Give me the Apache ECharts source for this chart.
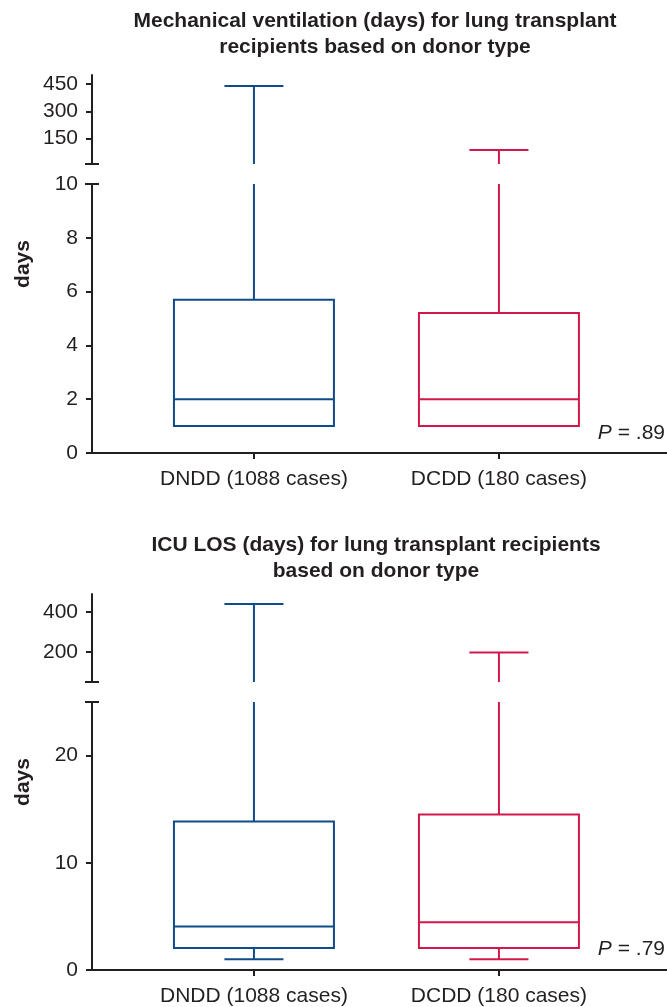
<!DOCTYPE html>
<html><head><meta charset="utf-8">
<script src="https://cdn.jsdelivr.net/npm/echarts@6/dist/echarts.min.js"></script>
<style>html,body{margin:0;padding:0;background:#fff}#c{width:667px;height:1007px}</style>
</head><body><div id="c"></div>
<script>
// ---- data ----
const categories = ['DNDD (1088 cases)', 'DCDD (180 cases)'];
// Mechanical ventilation (days)
const mvMin = [1, 1];
const mvQ1 = [1, 1];
const mvMedian = [2, 2];
const mvQ3 = [5.7, 5.2];
const mvMax = [440, 87];
// ICU LOS (days)
const losMin = [1, 1];
const losQ1 = [2.05, 2.05];
const losMedian = [4.05, 4.45];
const losQ3 = [13.85, 14.5];
const losMax = [440, 198];
// tick labels
const mvTicksUpper = [150, 300, 450];
const mvTicksLower = [0, 2, 4, 6, 8, 10];
const losTicksUpper = [200, 400];
const losTicksLower = [0, 10, 20];
const pValues = ['.89', '.79'];
const chartTitles = [
  'Mechanical ventilation (days) for lung transplant\nrecipients based on donor type',
  'ICU LOS (days) for lung transplant recipients\nbased on donor type'
];

// ---- styles ----
const AX = '#231f20';
const FONT = 'Liberation Sans';
const FS = 21;
const COLORS = ['#0f4c87', '#d2184a'];
const BOX_W = 0.653, CAP_W = 0.241;
const X_MIN = 0.339, X_MAX = 2.686;

function rows(mn, q1, md, q3, mx) {
  return categories.map((c, i) => [i + 1, mn[i], q1[i], md[i], q3[i], mx[i]]);
}
const mvRows = rows(mvMin, mvQ1, mvMedian, mvQ3, mvMax);
const losRows = rows(losMin, losQ1, losMedian, losQ3, losMax);

function boxRenderer(lo, hi) {
  return function (params, api) {
    const x = api.value(0);
    const mn = api.value(1), q1 = api.value(2), md = api.value(3), q3 = api.value(4), mx = api.value(5);
    const color = COLORS[params.dataIndex];
    const half = api.size([BOX_W, 0])[0] / 2;
    const capHalf = api.size([CAP_W, 0])[0] / 2;
    const cx = api.coord([x, lo])[0];
    const Y = v => api.coord([x, Math.max(lo, Math.min(hi, v))])[1];
    const style = { stroke: color, lineWidth: 2, fill: 'none' };
    const ch = [];
    const seg = (a, b) => { if (b > lo && a < hi && b > a) ch.push({ type: 'line', shape: { x1: cx, y1: Y(a), x2: cx, y2: Y(b) }, style }); };
    const hline = (v, h) => { if (v >= lo && v <= hi) ch.push({ type: 'line', shape: { x1: cx - h, y1: Y(v), x2: cx + h, y2: Y(v) }, style }); };
    seg(q3, mx); seg(mn, q1);
    if (q3 >= lo && q1 <= hi) {
      const yt = Y(q3), yb = Y(q1);
      ch.push({ type: 'rect', shape: { x: cx - half, y: yt, width: 2 * half, height: yb - yt }, style });
    }
    hline(md, half);
    hline(mx, capHalf);
    if (mn < q1) hline(mn, capHalf);
    return { type: 'group', children: ch };
  };
}

function yAx(grid, min, max, ticks, sym) {
  return {
    type: 'value', gridIndex: grid, min, max,
    axisLine: { show: true, lineStyle: { color: AX, width: 2 }, symbol: sym, symbolSize: [14, 2] },
    axisTick: { show: true, length: 6, lineStyle: { color: AX, width: 2 }, customValues: ticks },
    axisLabel: { customValues: ticks, color: AX, fontSize: FS, fontFamily: FONT, margin: 14 },
    splitLine: { show: false }
  };
}
function xAx(grid, show) {
  return {
    type: 'value', gridIndex: grid, min: X_MIN, max: X_MAX, show,
    axisLine: { onZero: false, lineStyle: { color: AX, width: 2 } },
    axisTick: { customValues: [1, 2], length: 6, lineStyle: { color: AX, width: 2 } },
    axisLabel: { customValues: [1, 2], formatter: v => categories[Math.round(v) - 1], color: AX, fontSize: FS, fontFamily: FONT, margin: 16 },
    splitLine: { show: false }
  };
}
function ser(grid, data, lo, hi) {
  return {
    type: 'custom', coordinateSystem: 'cartesian2d', xAxisIndex: grid, yAxisIndex: grid,
    data, encode: { x: 0, y: [1, 2, 3, 4, 5] }, renderItem: boxRenderer(lo, hi),
    clip: false, silent: true, animation: false
  };
}
const pStyle = {
  fontSize: FS, fontWeight: 'normal', color: AX, fontFamily: FONT,
  rich: { i: { fontStyle: 'italic', fontWeight: 'normal', fontSize: FS, color: AX, fontFamily: FONT } }
};
const tStyle = { fontSize: FS, fontWeight: 'bold', lineHeight: 26, color: AX, fontFamily: FONT };

const chart = echarts.init(document.getElementById('c'), null, { renderer: 'canvas' });
chart.setOption({
  backgroundColor: '#fff',
  animation: false,
  title: [
    { text: chartTitles[0], left: 375, top: 8, textAlign: 'center', padding: 0, textStyle: tStyle },
    { text: chartTitles[1], left: 376, top: 532, textAlign: 'center', padding: 0, textStyle: tStyle },
    { text: '{i|P} = ' + pValues[0], left: 665, top: 423, textAlign: 'right', padding: 0, textStyle: pStyle },
    { text: '{i|P} = ' + pValues[1], left: 665, top: 939, textAlign: 'right', padding: 0, textStyle: pStyle }
  ],
  grid: [
    { left: 92, right: 0, top: 75, height: 89 },
    { left: 92, right: 0, top: 184, height: 269 },
    { left: 92, right: 0, top: 594, height: 88 },
    { left: 92, right: 0, top: 702, height: 268 }
  ],
  xAxis: [xAx(0, false), xAx(1, true), xAx(2, false), xAx(3, true)],
  yAxis: [
    yAx(0, 10, 500, mvTicksUpper, ['rect', 'none']),
    yAx(1, 0, 10, mvTicksLower, ['none', 'rect']),
    yAx(2, 50, 490, losTicksUpper, ['rect', 'none']),
    yAx(3, 0, 25, losTicksLower, ['none', 'rect'])
  ],
  graphic: [
    { type: 'text', x: 23, y: 264, rotation: Math.PI / 2,
      style: { text: 'days', font: 'bold 21px "Liberation Sans"', fill: AX, textAlign: 'center', textVerticalAlign: 'middle', align: 'center', verticalAlign: 'middle' } },
    { type: 'text', x: 23, y: 782, rotation: Math.PI / 2,
      style: { text: 'days', font: 'bold 21px "Liberation Sans"', fill: AX, textAlign: 'center', textVerticalAlign: 'middle', align: 'center', verticalAlign: 'middle' } }
  ],
  series: [
    ser(0, mvRows, 10, 500),
    ser(1, mvRows, 0, 10),
    ser(2, losRows, 50, 490),
    ser(3, losRows, 0, 25)
  ]
});
</script>
</body></html>
